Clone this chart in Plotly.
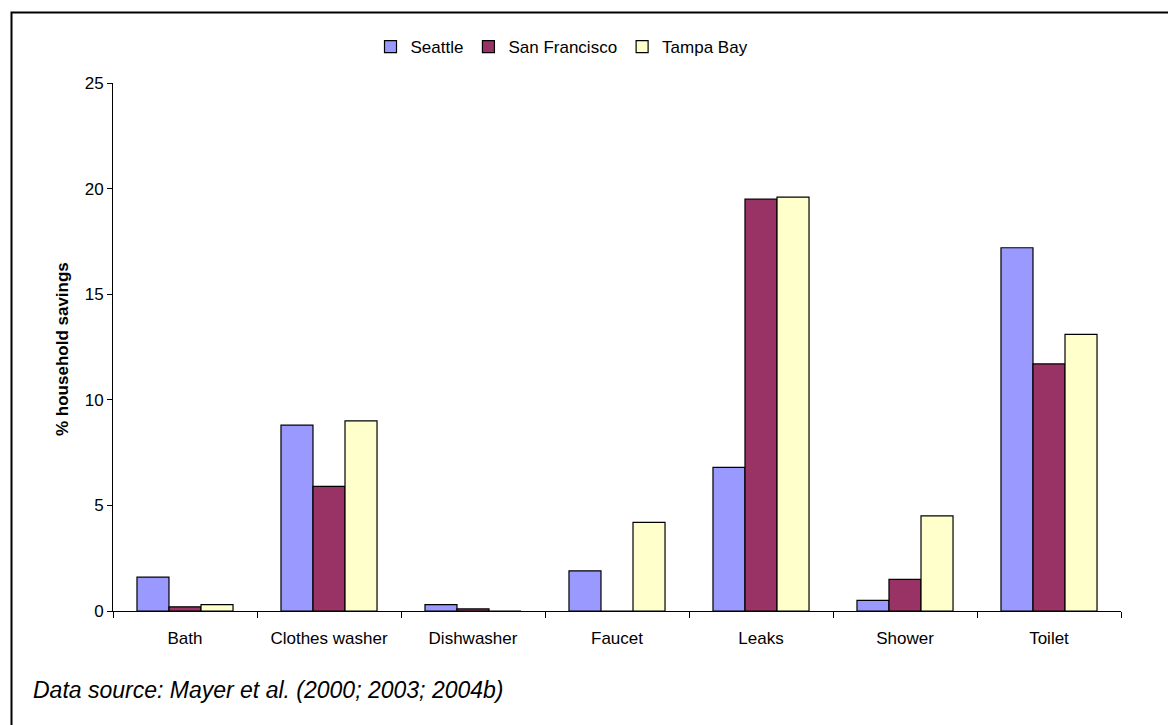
import plotly.graph_objects as go

categories = ["Bath", "Clothes washer", "Dishwasher", "Faucet", "Leaks", "Shower", "Toilet"]
seattle = [1.6, 8.8, 0.3, 1.9, 6.8, 0.5, 17.2]
san_francisco = [0.2, 5.9, 0.1, 0.0, 19.5, 1.5, 11.7]
tampa_bay = [0.3, 9.0, 0.0, 4.2, 19.6, 4.5, 13.1]
y_ticks = [0, 5, 10, 15, 20, 25]

OFF = 8  # default page body margin
W, H = 1176 - OFF, 725 - OFF
L, R, T, B = 113 - OFF, 1121 - OFF, 83 - OFF, 611 - OFF

def px_x(px):
    return (px - OFF - L) / (R - L)

def px_y(py):
    return (B - (py - OFF)) / (B - T)

font = "Liberation Sans, Arial, sans-serif"
fig = go.Figure()
for name, vals, col in [("Seattle", seattle, "#9999FF"),
                        ("San Francisco", san_francisco, "#993366"),
                        ("Tampa Bay", tampa_bay, "#FFFFCC")]:
    fig.add_trace(go.Bar(name=name, x=categories, y=vals,
                         marker=dict(color=col, line=dict(color="black", width=1.2))))

fig.update_layout(
    width=W, height=H,
    margin=dict(l=L, r=W - R, t=T, b=H - B),
    barmode="group", bargap=0.333, bargroupgap=0,
    plot_bgcolor="white", paper_bgcolor="white",
    font=dict(family=font, size=17, color="black"),
    showlegend=True,
    legend=dict(orientation="h", x=px_x(562), y=px_y(47), xanchor="center", yanchor="middle",
                font=dict(size=17), itemwidth=30, bgcolor="rgba(0,0,0,0)"),
    xaxis=dict(showline=True, linecolor="black", linewidth=1, ticks="outside", ticklen=6,
               tickcolor="black", tickson="boundaries", showgrid=False, tickfont=dict(size=17),
               ticklabelstandoff=12),
    yaxis=dict(range=[0, 25], tickvals=y_ticks, showline=True, linecolor="black", linewidth=1,
               ticks="outside", ticklen=5, tickcolor="black", showgrid=False, zeroline=False,
               tickfont=dict(size=17)),
)

fig.add_annotation(text="<b>% household savings</b>", x=px_x(62), y=px_y(349), xref="paper", yref="paper",
                   textangle=-90, showarrow=False, font=dict(size=17), xanchor="center", yanchor="middle")
fig.add_annotation(text="<i>Data source: Mayer et al. (2000; 2003; 2004b)</i>", x=px_x(31), y=px_y(690),
                   xref="paper", yref="paper", showarrow=False, font=dict(size=23),
                   xanchor="left", yanchor="middle")
fig.add_shape(type="rect", xref="paper", yref="paper", x0=px_x(11.5), x1=px_x(1300), y0=px_y(800),
              y1=px_y(12.5), line=dict(color="black", width=2), fillcolor="rgba(0,0,0,0)", layer="below")

fig.write_html("out.html")
